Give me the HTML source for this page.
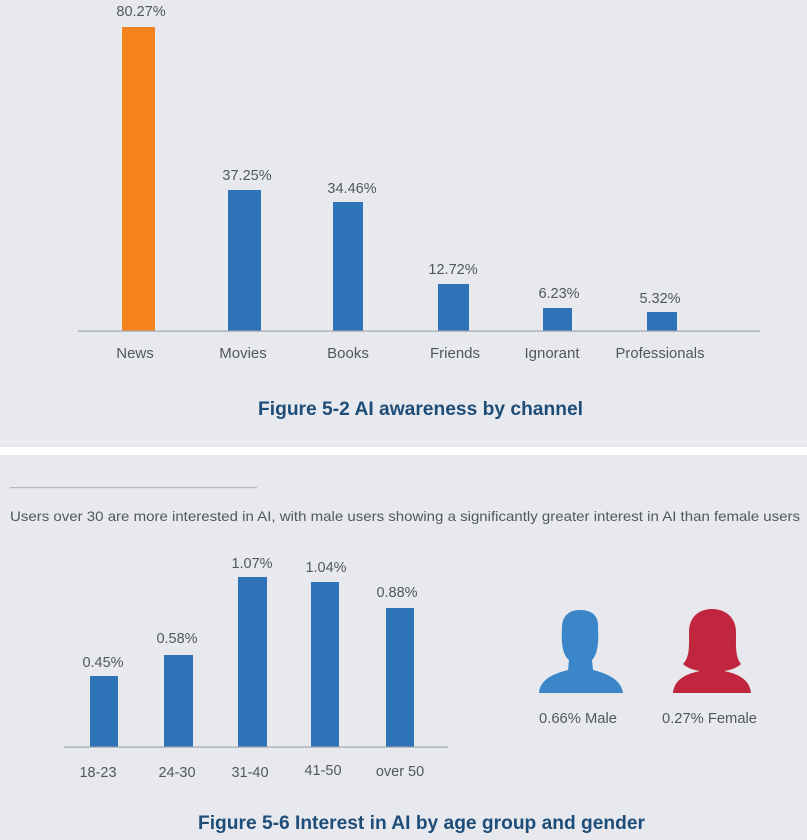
<!DOCTYPE html>
<html>
<head>
<meta charset="utf-8">
<style>
  html, body { margin: 0; padding: 0; background: #e7e9ee; }
  svg { display: block; }
  text { font-family: "Liberation Sans", sans-serif; }
</style>
</head>
<body>
<svg width="807" height="840" viewBox="0 0 807 840" xmlns="http://www.w3.org/2000/svg">
  <rect x="0" y="0" width="807" height="840" fill="#e7e9ee"/>
  <!-- separator -->
  <rect x="0" y="441" width="807" height="1" fill="#f0f2f4"/>
  <rect x="0" y="447" width="807" height="8" fill="#fdfefe"/>

  <!-- ===== Top chart ===== -->
  <g fill="#2e72b8">
    <rect x="122" y="27" width="33" height="304" fill="#f5841f"/>
    <rect x="228" y="190" width="33" height="141"/>
    <rect x="333" y="202" width="30" height="129"/>
    <rect x="438" y="284" width="31" height="47"/>
    <rect x="543" y="308" width="29" height="23"/>
    <rect x="647" y="312" width="30" height="19"/>
  </g>
  <rect x="78" y="330.5" width="682" height="1.2" fill="#a3a7ae"/>

  <g fill="#52575e" font-size="14.5" text-anchor="middle">
    <text x="141" y="16">80.27%</text>
    <text x="247" y="180">37.25%</text>
    <text x="352" y="193">34.46%</text>
    <text x="453" y="274">12.72%</text>
    <text x="559" y="298">6.23%</text>
    <text x="660" y="303">5.32%</text>
  </g>
  <g fill="#52575e" font-size="15" text-anchor="middle">
    <text x="135" y="358">News</text>
    <text x="243" y="358">Movies</text>
    <text x="348" y="358">Books</text>
    <text x="455" y="358">Friends</text>
    <text x="552" y="358">Ignorant</text>
    <text x="660" y="358" textLength="89" lengthAdjust="spacingAndGlyphs">Professionals</text>
  </g>
  <text x="258" y="415" font-size="19" font-weight="bold" fill="#1d4d78" textLength="325" lengthAdjust="spacingAndGlyphs">Figure 5-2  AI awareness by channel</text>

  <!-- ===== Bottom chart ===== -->
  <rect x="10" y="487" width="247" height="1.2" fill="#b4b8bf"/>
  <text x="10" y="521" font-size="14" fill="#52575e" textLength="790" lengthAdjust="spacingAndGlyphs">Users over 30 are more interested in AI, with male users showing a significantly greater interest in AI than female users</text>

  <g fill="#2e72b8">
    <rect x="90" y="676" width="28" height="71"/>
    <rect x="164" y="655" width="29" height="92"/>
    <rect x="238" y="577" width="29" height="170"/>
    <rect x="311" y="582" width="28" height="165"/>
    <rect x="386" y="608" width="28" height="139"/>
  </g>
  <rect x="64" y="746.5" width="384" height="1.2" fill="#a3a7ae"/>

  <g fill="#52575e" font-size="14.5" text-anchor="middle">
    <text x="103" y="667">0.45%</text>
    <text x="177" y="643">0.58%</text>
    <text x="252" y="568">1.07%</text>
    <text x="326" y="572">1.04%</text>
    <text x="397" y="597">0.88%</text>
  </g>
  <g fill="#52575e" font-size="14.5" text-anchor="middle">
    <text x="98" y="777">18-23</text>
    <text x="177" y="777">24-30</text>
    <text x="250" y="777">31-40</text>
    <text x="323" y="775">41-50</text>
    <text x="400" y="776">over 50</text>
  </g>

  <!-- Male icon -->
  <path fill="#3a86c8" d="M539,693 C540,680 552,674 568,670 L569,660 C563,655 561,645 562,628 C562,615 570,610 580,610 C591,610 599,615 598,628 C599,645 597,655 592,660 L593,670 C609,674 621,680 623,693 Z"/>
  <!-- Female icon -->
  <path fill="#c0263e" d="M673,693 C674,681 684,674 700,671 C692,670 686,667 683,664 C690,657 689,645 689,632 C689,617 699,609 712,609 C725,609 736,617 736,632 C736,645 735,657 741,664 C738,667 732,670 724,671 C740,674 750,681 751,693 Z"/>

  <g fill="#52575e" font-size="14.5">
    <text x="539" y="723" textLength="78" lengthAdjust="spacingAndGlyphs">0.66% Male</text>
    <text x="662" y="723" textLength="95" lengthAdjust="spacingAndGlyphs">0.27% Female</text>
  </g>

  <text x="198" y="829" font-size="19" font-weight="bold" fill="#1d4d78" textLength="447" lengthAdjust="spacingAndGlyphs">Figure 5-6  Interest in AI by age group and gender</text>
</svg>
</body>
</html>
